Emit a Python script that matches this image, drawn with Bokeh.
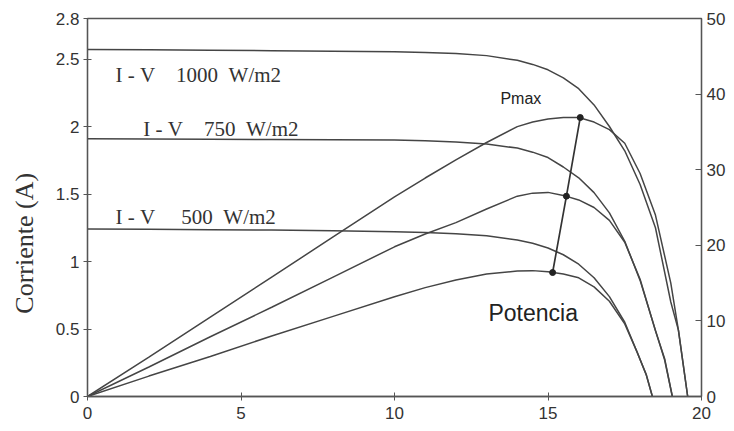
import math
from bokeh.plotting import figure
from bokeh.models import Range1d, LinearAxis, FixedTicker, NumeralTickFormatter, Label
from bokeh.embed import file_html
from bokeh.resources import INLINE

# ---- data ----
x_ticks = [0, 5, 10, 15, 20]
y_ticks = [0, 0.5, 1, 1.5, 2, 2.5, 2.8]
y2_ticks = [0, 10, 20, 30, 40, 50]

# I-V curves (current, A)
v_1000 = [0, 2, 4, 6, 8, 10, 11, 12, 13, 14, 14.5, 15, 15.5, 16, 16.5, 17, 17.5, 18, 18.5, 19, 19.25, 19.55]
i_1000 = [2.57, 2.568, 2.565, 2.562, 2.558, 2.553, 2.548, 2.54, 2.525, 2.49, 2.46, 2.42, 2.36, 2.28, 2.16, 2.0, 1.82, 1.57, 1.25, 0.70, 0.49, 0.0]

v_750 = [0, 2, 4, 6, 8, 10, 11, 12, 13, 14, 14.5, 15, 15.5, 16, 16.5, 17, 17.5, 18, 18.5, 18.8, 19.05]
i_750 = [1.91, 1.908, 1.906, 1.904, 1.902, 1.90, 1.895, 1.885, 1.87, 1.84, 1.81, 1.77, 1.70, 1.62, 1.51, 1.36, 1.15, 0.86, 0.49, 0.27, 0.0]

v_500 = [0, 2, 4, 6, 8, 10, 11, 12, 13, 14, 14.5, 15, 15.5, 16, 16.5, 17, 17.5, 17.9, 18.2, 18.4]
i_500 = [1.24, 1.238, 1.236, 1.233, 1.228, 1.22, 1.215, 1.205, 1.19, 1.16, 1.135, 1.10, 1.05, 0.98, 0.88, 0.74, 0.55, 0.33, 0.16, 0.0]

# power curves (W, right axis)
p_1000 = [0, 5.2, 10.5, 15.8, 21.1, 26.4, 28.9, 31.3, 33.6, 35.7, 36.3, 36.7, 36.9, 36.9, 36.3, 35.3, 33.5, 29.5, 24.0, 15.0, 8.7, 0]
p_750 = [0, 3.9, 7.9, 11.8, 15.8, 19.8, 21.5, 23.0, 24.8, 26.5, 26.9, 27.0, 26.6, 26.0, 25.0, 23.3, 20.4, 15.5, 8.7, 5.0, 0]
p_500 = [0, 2.7, 5.3, 8.0, 10.6, 13.2, 14.4, 15.4, 16.2, 16.6, 16.65, 16.5, 16.2, 15.7, 14.5, 12.6, 9.6, 5.9, 2.9, 0]

# maximum power points
pmax_v = [15.15, 15.6, 16.05]
pmax_p = [16.4, 26.5, 36.9]

# ---- figure ----
LINE = "#454545"
AX = "#555555"
TXT = "#333333"

p = figure(width=734, height=431, output_backend="svg", toolbar_location=None,
           x_range=Range1d(0, 20), y_range=Range1d(0, 2.8),
           min_border_left=87, min_border_right=33, min_border_top=18, min_border_bottom=35)
p.extra_y_ranges = {"pw": Range1d(0, 50)}
p.grid.visible = False
p.outline_line_color = AX
p.outline_line_width = 1.3
p.background_fill_color = "white"
p.border_fill_color = "white"

for ax in [p.xaxis[0], p.yaxis[0]]:
    ax.axis_line_color = AX
    ax.axis_line_width = 1.3
    ax.major_tick_line_color = AX
    ax.major_tick_in = 4
    ax.major_tick_out = 4
    ax.minor_tick_line_color = None
    ax.major_label_text_font = "Liberation Sans"
    ax.major_label_text_font_size = "17px"
    ax.major_label_text_color = TXT

p.xaxis[0].ticker = FixedTicker(ticks=x_ticks)
p.xaxis[0].major_label_standoff = 6
p.yaxis[0].ticker = FixedTicker(ticks=y_ticks)
p.yaxis[0].formatter = NumeralTickFormatter(format="0.[0]")
p.yaxis[0].major_label_standoff = 4

nb = "\u00a0"
# axis title, shifted downward like in the reference by trailing non-breaking spaces
p.yaxis[0].axis_label = "Corriente (A)" + nb * 11
p.yaxis[0].axis_label_text_font = "Liberation Serif"
p.yaxis[0].axis_label_text_font_size = "26px"
p.yaxis[0].axis_label_text_font_style = "normal"
p.yaxis[0].axis_label_text_color = TXT
p.yaxis[0].axis_label_standoff = 14

ax2 = LinearAxis(y_range_name="pw", ticker=FixedTicker(ticks=y2_ticks))
ax2.axis_line_color = AX
ax2.axis_line_width = 1.3
ax2.major_tick_line_color = AX
ax2.major_tick_in = 6
ax2.major_tick_out = 0
ax2.minor_tick_line_color = None
ax2.major_label_standoff = 5
ax2.major_label_text_font = "Liberation Sans"
ax2.major_label_text_font_size = "17px"
ax2.major_label_text_color = TXT
p.add_layout(ax2, "right")

# I-V curves
for v, i in [(v_1000, i_1000), (v_750, i_750), (v_500, i_500)]:
    p.line(v, i, line_color=LINE, line_width=1.5)

# power curves
for v, pw in [(v_1000, p_1000), (v_750, p_750), (v_500, p_500)]:
    p.line(v, pw, line_color=LINE, line_width=1.5, y_range_name="pw")

# Pmax line and points
p.line(pmax_v, pmax_p, line_color="#333333", line_width=1.7, y_range_name="pw")
p.scatter(pmax_v, pmax_p, size=6, color="#222222", y_range_name="pw")

labels = [
    ("I" + nb + "-" + nb + "V" + nb * 4 + "1000" + nb * 2 + "W/m2", 0.91, 2.378),
    ("I" + nb + "-" + nb + "V" + nb * 4 + "750" + nb * 2 + "W/m2", 1.82, 1.985),
    ("I" + nb + "-" + nb + "V" + nb * 5 + "500" + nb * 2 + "W/m2", 0.91, 1.326),
]
for t, x, y in labels:
    p.add_layout(Label(x=x, y=y, text=t, text_font="Liberation Serif", text_font_size="21px",
                       text_color=TXT, text_align="left", text_baseline="alphabetic"))

p.add_layout(Label(x=13.45, y=39.4, y_range_name="pw", text="Pmax", text_font="Liberation Sans",
                   text_font_size="16px", text_color="#222222", text_baseline="alphabetic"))
p.add_layout(Label(x=13.06, y=10.98, y_range_name="pw", text="Potencia", text_font="Liberation Sans",
                   text_font_size="23px", text_color="#222222", text_baseline="alphabetic"))

open("out.html", "w").write(file_html(p, INLINE))
